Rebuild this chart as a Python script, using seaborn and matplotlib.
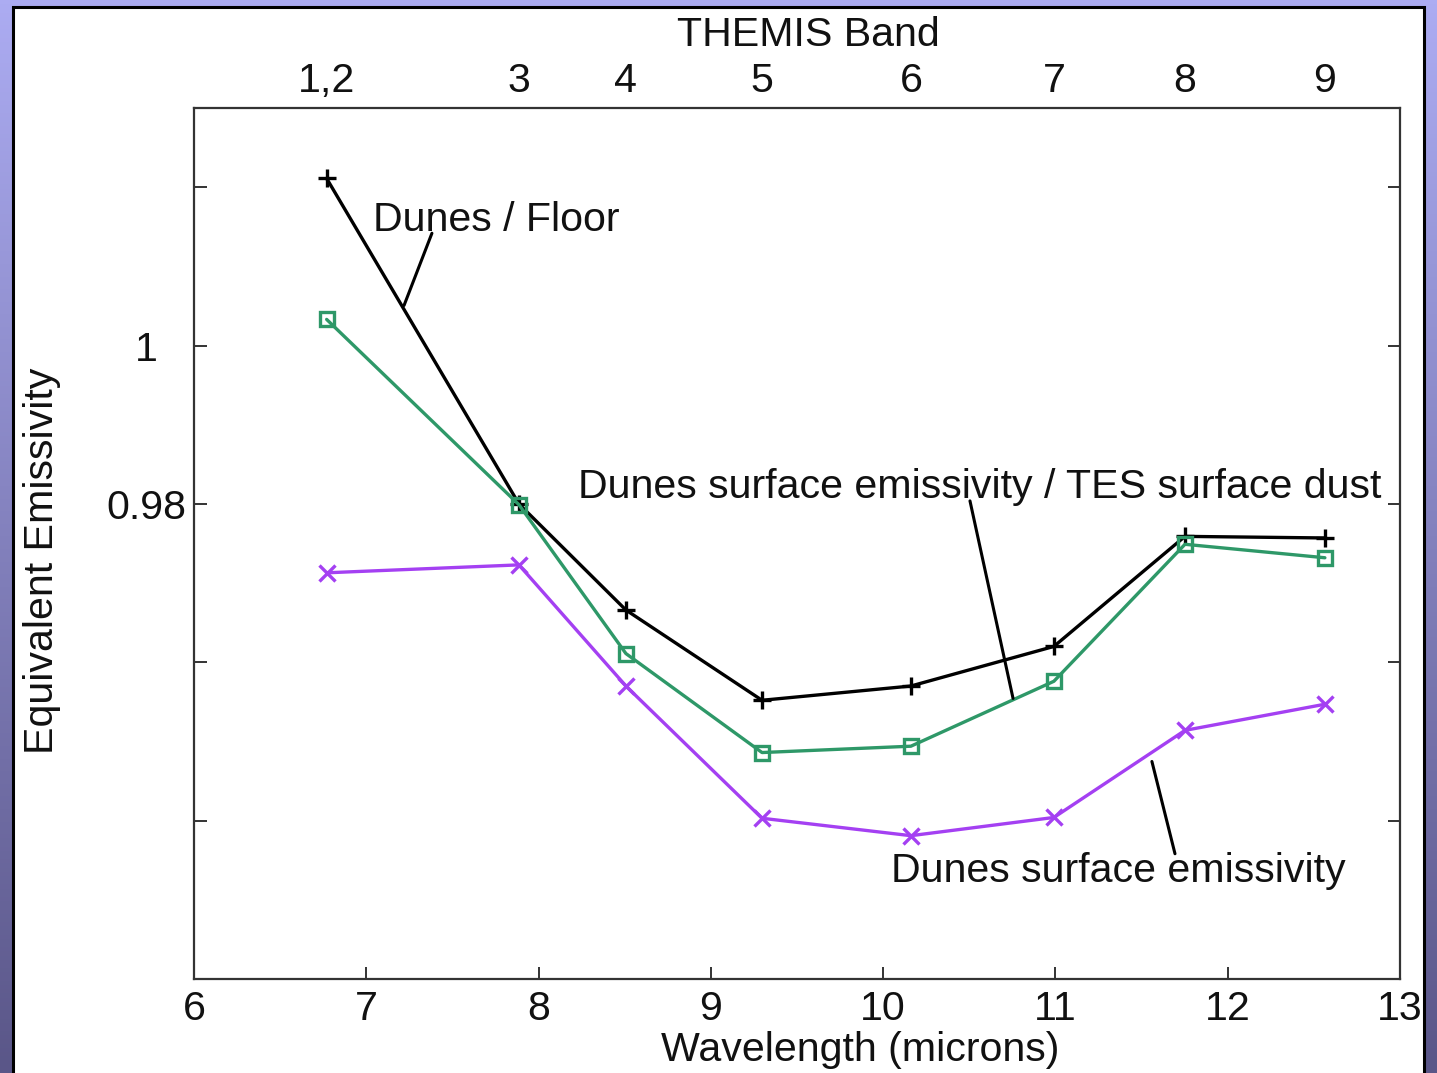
import numpy as np
import pandas as pd
import matplotlib
matplotlib.use("Agg")
import matplotlib.pyplot as plt
from matplotlib.patches import Rectangle
import seaborn as sns

# ---- data ----
wavelength = [6.77, 7.886, 8.507, 9.297, 10.161, 10.991, 11.752, 12.564]
band_labels = ["1,2", "3", "4", "5", "6", "7", "8", "9"]
dunes_floor = [1.0211, 0.9800, 0.9666, 0.9552, 0.9570, 0.9620, 0.9759, 0.9757]
dunes_over_dust = [1.0033, 0.9799, 0.9611, 0.9486, 0.9494, 0.9576, 0.9749, 0.9732]
dunes_surface = [0.9713, 0.9723, 0.9570, 0.9403, 0.9381, 0.9404, 0.9514, 0.9547]
x_ticks = [6, 7, 8, 9, 10, 11, 12, 13]
y_ticks = [0.94, 0.96, 0.98, 1.00, 1.02]
y_ticklabels = ["", "", "0.98", "1", ""]

sns.set_theme(style="white")
plt.rcParams["font.family"] = ["Liberation Sans", "DejaVu Sans"]

FS = 29.6
W, H = 1437, 1073
fig = plt.figure(figsize=(W / 100, H / 100), dpi=100)

# background gradient + white panel
bg = fig.add_axes([0, 0, 1, 1], zorder=-10)
top_c = np.array([172, 172, 242]) / 255
bot_c = np.array([90, 86, 136]) / 255
t = np.linspace(0, 1, 256)[:, None, None]
grad = top_c * (1 - t) + bot_c * t
grad = np.repeat(grad, 2, axis=1)
bg.imshow(grad, aspect="auto", extent=[0, 1, 0, 1], origin="upper")
bg.add_patch(Rectangle((13 / W, -0.02), (1424 - 13) / W, 1 - 7 / H + 0.02,
                       facecolor="white", edgecolor="black", linewidth=2.2,
                       transform=bg.transAxes))
bg.set_xlim(0, 1)
bg.set_ylim(0, 1)
bg.axis("off")

ax = fig.add_axes([194 / W, 1 - 979 / H, (1400 - 194) / W, (979 - 108) / H])
ax.set_facecolor("none")

df = pd.DataFrame({"w": wavelength, "floor": dunes_floor,
                   "dust": dunes_over_dust, "surf": dunes_surface})

green = "#2e9868"
purple = "#a440f2"
sns.lineplot(data=df, x="w", y="floor", ax=ax, color="black", linewidth=2.4,
             marker="+", markersize=13, markeredgewidth=2.4,
             markeredgecolor="black", sort=False)
sns.lineplot(data=df, x="w", y="dust", ax=ax, color=green, linewidth=2.4,
             marker="s", markersize=10, markerfacecolor="none",
             markeredgecolor=green, markeredgewidth=2.4, sort=False)
sns.lineplot(data=df, x="w", y="surf", ax=ax, color=purple, linewidth=2.4,
             marker="x", markersize=11, markeredgewidth=2.4,
             markeredgecolor=purple, sort=False)

ax.set_xlim(6, 13)
ax.set_ylim(0.92, 1.03)
ax.set_xticks(x_ticks)
ax.set_xticklabels([str(v) for v in x_ticks])
ax.set_yticks(y_ticks)
ax.set_yticklabels(y_ticklabels)
ax.set_xlabel("")
ax.set_ylabel("")
for s in ax.spines.values():
    s.set_color("#333333")
    s.set_linewidth(1.6)
ax.tick_params(axis="both", direction="in", length=9, width=1.4, color="#333333",
               labelsize=FS, labelcolor="#111111")
ax.tick_params(axis="x", top=True, bottom=True, pad=8)
ax.tick_params(axis="y", left=True, right=True, pad=34)
for lab in ax.get_yticklabels():
    lab.set_horizontalalignment("center")

# top THEMIS band axis
ax2 = ax.twiny()
ax2.set_xlim(6, 13)
ax2.set_xticks(wavelength)
ax2.set_xticklabels(band_labels)
ax2.tick_params(axis="x", length=0, labelsize=FS, pad=6, labelcolor="#111111")
for s in ax2.spines.values():
    s.set_visible(False)

fig.text(808 / W, 1 - 35 / H, "THEMIS Band", fontsize=FS, ha="center",
         va="center", color="#111111")
fig.text(860 / W, 1 - 1050 / H, "Wavelength (microns)", fontsize=FS,
         ha="center", va="center", color="#111111")
fig.text(42 / W, 1 - 561 / H, "Equivalent Emissivity", fontsize=FS,
         ha="center", va="center", rotation=90, color="#111111")

# annotations with leader lines
ax.text(7.039, 1.01443, "Dunes / Floor", fontsize=FS, ha="left", va="baseline",
        color="#111111")
ax.plot([7.381, 7.219], [1.01418, 1.00506], color="black", linewidth=2.2)

ax.text(8.229, 0.98076, "Dunes surface emissivity / TES surface dust",
        fontsize=FS, ha="left", va="baseline", color="#111111")
ax.plot([10.504, 10.754], [0.98038, 0.95544], color="black", linewidth=2.2)

ax.text(10.045, 0.93228, "Dunes surface emissivity", fontsize=FS, ha="left",
        va="baseline", color="#111111")
ax.plot([11.560, 11.694], [0.94747, 0.93582], color="black", linewidth=2.2)

fig.savefig("out.png", dpi=100)
